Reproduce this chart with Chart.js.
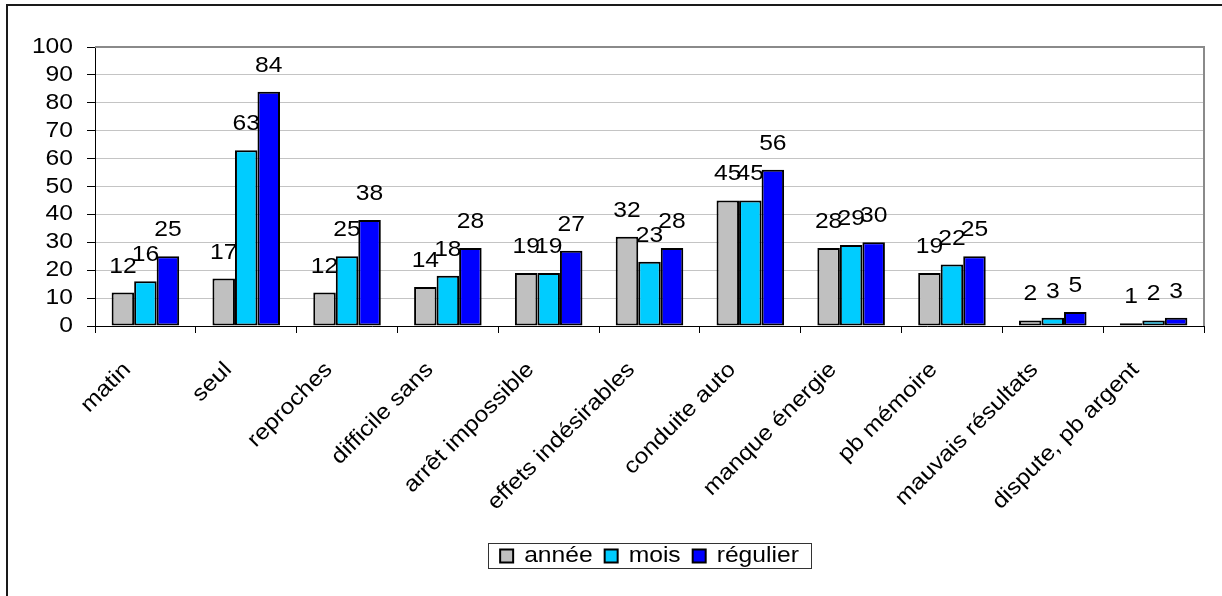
<!DOCTYPE html>
<html lang="fr">
<head>
<meta charset="utf-8">
<title>Graphique</title>
<script src="https://cdn.jsdelivr.net/npm/chart.js@4.4.1/dist/chart.umd.min.js"></script>
<style>
  html, body { margin: 0; padding: 0; background: #ffffff; overflow: hidden; }
  #chart { display: block; }
</style>
</head>
<body>
<canvas id="chart" width="1222" height="596"></canvas>
<script>
// Catégories et séries
const categories = [
  'matin', 'seul', 'reproches', 'difficile sans', 'arrêt impossible',
  'effets indésirables', 'conduite auto', 'manque énergie', 'pb mémoire',
  'mauvais résultats', 'dispute, pb argent'
];
const seriesNames = ['année', 'mois', 'régulier'];
const annee    = [12, 17, 12, 14, 19, 32, 45, 28, 19, 2, 1];
const mois     = [16, 63, 25, 18, 19, 23, 45, 29, 22, 3, 2];
const regulier = [25, 84, 38, 28, 27, 28, 56, 30, 25, 5, 3];
const yTicks   = [0, 10, 20, 30, 40, 50, 60, 70, 80, 90, 100];

const seriesColors = ['#C0C0C0', '#00CCFF', '#0000FF'];
const FONT = { family: '"Liberation Sans", Arial, sans-serif', size: 22 };
const TEXT_WIDTH = 1.12;   // wide-set lettering

const canvas = document.getElementById('chart');
const ctx2d = canvas.getContext('2d');

// Wide lettering: every label is drawn stretched along its own direction.
(function widen(ctx, k) {
  const measure = ctx.measureText.bind(ctx);
  const fill = ctx.fillText.bind(ctx);
  ctx.measureText = function (t) {
    const m = measure(t);
    return {
      width: m.width * k,
      actualBoundingBoxLeft: m.actualBoundingBoxLeft * k,
      actualBoundingBoxRight: m.actualBoundingBoxRight * k,
      actualBoundingBoxAscent: m.actualBoundingBoxAscent,
      actualBoundingBoxDescent: m.actualBoundingBoxDescent,
      fontBoundingBoxAscent: m.fontBoundingBoxAscent,
      fontBoundingBoxDescent: m.fontBoundingBoxDescent
    };
  };
  ctx.fillText = function (t, x, y, maxWidth) {
    ctx.save();
    ctx.translate(x, y);
    ctx.scale(k, 1);
    if (maxWidth !== undefined) fill(t, 0, 0, maxWidth / k);
    else fill(t, 0, 0);
    ctx.restore();
  };
})(ctx2d, TEXT_WIDTH);

// Value written above every bar
const valueLabels = {
  id: 'valueLabels',
  afterDatasetsDraw(chart) {
    const ctx = chart.ctx;
    ctx.save();
    ctx.font = `${FONT.size}px ${FONT.family}`;
    ctx.fillStyle = '#000000';
    ctx.textAlign = 'center';
    ctx.textBaseline = 'alphabetic';
    chart.data.datasets.forEach((ds, di) => {
      const meta = chart.getDatasetMeta(di);
      meta.data.forEach((bar, i) => {
        ctx.fillText(String(ds.data[i]), bar.x, bar.y - 20);
      });
    });
    ctx.restore();
  }
};

// Grey frame on the top and right of the plot area
const plotFrame = {
  id: 'plotFrame',
  beforeDatasetsDraw(chart) {
    const { left, right, top, bottom } = chart.chartArea;
    const ctx = chart.ctx;
    ctx.save();
    ctx.strokeStyle = '#8a8a8a';
    ctx.lineWidth = 2;
    ctx.beginPath();
    ctx.moveTo(left, top);
    ctx.lineTo(right, top);
    ctx.lineTo(right, bottom);
    ctx.stroke();
    ctx.restore();
  }
};

// Outline around the legend, and the outer chart border
const outlines = {
  id: 'outlines',
  afterDraw(chart) {
    const ctx = chart.ctx;
    ctx.save();
    const lg = chart.legend;
    if (lg && lg.legendHitBoxes && lg.legendHitBoxes.length) {
      const hb = lg.legendHitBoxes;
      const x0 = Math.min(...hb.map(h => h.left)) - 12;
      const x1 = Math.max(...hb.map(h => h.left + h.width)) + 12;
      const cy = hb[0].top + hb[0].height / 2;
      ctx.strokeStyle = '#333333';
      ctx.lineWidth = 1;
      ctx.strokeRect(Math.round(x0) + 0.5, Math.round(cy - 13) + 0.5, Math.round(x1 - x0), 25);
    }
    ctx.strokeStyle = '#1a1a1a';
    ctx.lineWidth = 2;
    ctx.beginPath();
    ctx.moveTo(7, 596);
    ctx.lineTo(7, 5);
    ctx.lineTo(1222, 5);
    ctx.stroke();
    ctx.restore();
  }
};

const datasets = [annee, mois, regulier].map((values, i) => ({
  label: seriesNames[i],
  data: values,
  backgroundColor: seriesColors[i],
  borderColor: '#000000',
  borderWidth: 2,
  borderSkipped: false
}));

new Chart(ctx2d, {
  type: 'bar',
  data: { labels: categories, datasets },
  options: {
    responsive: false,
    animation: false,
    devicePixelRatio: 1,
    layout: { padding: { left: 0, right: 18, top: 47, bottom: 19 } },
    datasets: { bar: { barPercentage: 1.0, categoryPercentage: 0.67 } },
    scales: {
      x: {
        grid: {
          display: true,
          drawOnChartArea: false,
          drawTicks: true,
          tickLength: 7,
          offset: true,
          tickColor: '#000000',
          tickWidth: 1
        },
        border: { display: true, color: '#000000', width: 1 },
        ticks: {
          autoSkip: false,
          maxRotation: 45,
          minRotation: 45,
          labelOffset: -18,
          padding: 24,
          color: '#000000',
          font: FONT
        },
        afterFit(scale) { scale.height = 207; }
      },
      y: {
        min: 0,
        max: 100,
        afterBuildTicks(scale) { scale.ticks = yTicks.map(v => ({ value: v })); },
        grid: {
          color: '#c4c4c4',
          lineWidth: 1,
          drawTicks: true,
          tickLength: 8,
          tickColor: '#000000'
        },
        border: { display: true, color: '#000000', width: 1 },
        ticks: {
          autoSkip: false,
          padding: 14,
          color: '#000000',
          font: FONT
        },
        afterFit(scale) { scale.width = 95; }
      }
    },
    plugins: {
      legend: {
        display: true,
        position: 'bottom',
        fullSize: false,
        labels: {
          boxWidth: 13,
          boxHeight: 13,
          padding: 12,
          color: '#000000',
          font: FONT
        }
      },
      tooltip: { enabled: false },
      title: { display: false }
    }
  },
  plugins: [plotFrame, valueLabels, outlines]
});
</script>
</body>
</html>
